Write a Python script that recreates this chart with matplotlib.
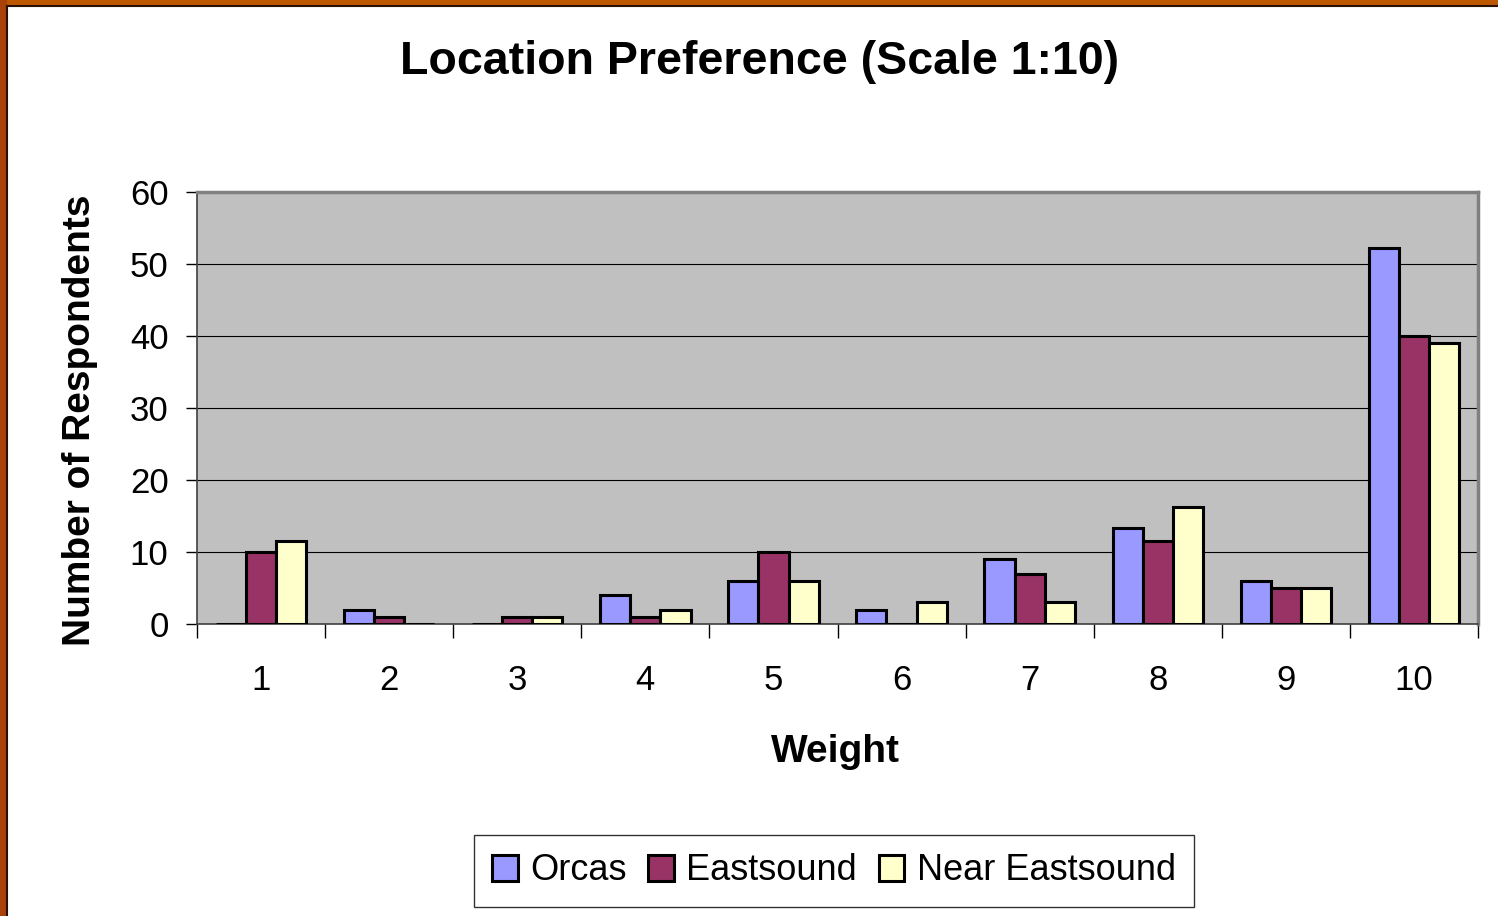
import numpy as np
import matplotlib.pyplot as plt
from matplotlib.patches import Rectangle
from matplotlib.lines import Line2D

plt.rcParams['font.family'] = ['Liberation Sans', 'DejaVu Sans']

weights = ['1', '2', '3', '4', '5', '6', '7', '8', '9', '10']
orcas = [0, 2, 0, 4, 6, 2, 9, 13.3, 6, 52.2]
eastsound = [10, 1, 1, 1, 10, 0, 7, 11.5, 5, 40]
near_eastsound = [11.5, 0, 1, 2, 6, 3, 3, 16.3, 5, 39]

series = [('Orcas', orcas, '#9999FF'),
          ('Eastsound', eastsound, '#993366'),
          ('Near Eastsound', near_eastsound, '#FFFFCC')]

W, H = 1498, 916
fig = plt.figure(figsize=(W / 100, H / 100), dpi=100)
fig.patch.set_facecolor('white')

# orange slide frame (top and left edges)
fig.add_artist(Rectangle((0, 1 - 6 / H), 1, 6 / H, transform=fig.transFigure,
                         facecolor='#BC5700', edgecolor='none'))
fig.add_artist(Rectangle((0, 0), 7 / W, 1, transform=fig.transFigure,
                         facecolor='#A8420A', edgecolor='none'))
fig.add_artist(Line2D([7 / W, 1], [1 - 6 / H, 1 - 6 / H], transform=fig.transFigure,
                      color='#2a1000', lw=1.5))
fig.add_artist(Line2D([7 / W, 7 / W], [0, 1 - 6 / H], transform=fig.transFigure,
                      color='#2a1000', lw=1.5))

ax = fig.add_axes([197 / W, 1 - 624 / H, (1478 - 197) / W, (624 - 192) / H])
ax.set_facecolor('#C0C0C0')

x = np.arange(1, len(weights) + 1)
w = 0.235
for i, (name, vals, color) in enumerate(series):
    ax.bar(x + (i - 1) * w, vals, width=w, color=color, edgecolor='black',
           linewidth=2.2, label=name, zorder=3)

ax.set_xlim(0.5, 10.5)
ax.set_ylim(0, 60)
ax.set_yticks(range(0, 61, 10))
ax.yaxis.grid(True, color='black', linewidth=0.8, zorder=1)
ax.set_axisbelow(True)

ax.set_xticks(x)
ax.set_xticklabels(weights)
ax.set_xticks(np.arange(0.5, 11, 1), minor=True)
ax.tick_params(axis='x', which='major', length=0, labelsize=25, pad=29)
ax.tick_params(axis='x', which='minor', length=10, width=1, direction='out')
ax.tick_params(axis='y', length=8, width=1, labelsize=25, pad=12.5)

for s in ['top', 'right']:
    ax.spines[s].set_color('#808080')
    ax.spines[s].set_linewidth(2.5)
ax.spines['left'].set_color('#404040')
ax.spines['left'].set_linewidth(1.2)
ax.spines['bottom'].set_color('#404040')
ax.spines['bottom'].set_linewidth(1.2)

fig.text(760 / W, 1 - 62 / H, 'Location Preference (Scale 1:10)',
         ha='center', va='center', fontsize=33.5, fontweight='bold')
fig.text(80 / W, 1 - 420 / H, 'Number of Respondents', rotation=90,
         ha='center', va='center', fontsize=28, fontweight='bold')
fig.text(835 / W, 1 - 752 / H, 'Weight', ha='center', va='center',
         fontsize=28, fontweight='bold')

leg = fig.legend(loc='center', bbox_to_anchor=(834 / W, 1 - 871 / H), ncol=3,
                 fontsize=26, frameon=True, fancybox=False, handlelength=0.7,
                 handleheight=0.7, handletextpad=0.35, columnspacing=0.6,
                 borderpad=0.5, borderaxespad=0)
leg.get_frame().set_edgecolor('black')
leg.get_frame().set_linewidth(1)

fig.savefig('out.png', dpi=100)
